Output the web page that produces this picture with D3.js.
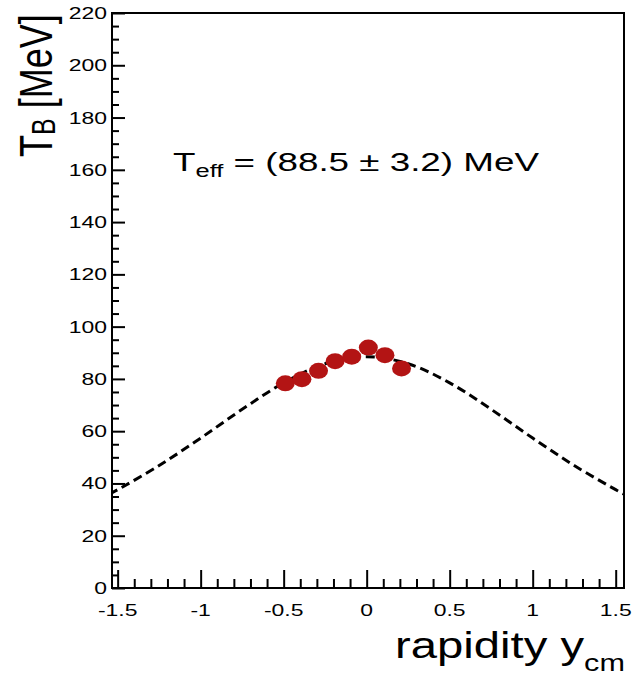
<!DOCTYPE html>
<html>
<head>
<meta charset="utf-8">
<script src="https://cdn.jsdelivr.net/npm/d3@7"></script>
<style>
  html, body { margin: 0; padding: 0; background: #fff; }
  svg { display: block; font-family: "Liberation Sans", Arial, Helvetica, sans-serif; }
</style>
</head>
<body>
<svg id="chart" width="632" height="676"></svg>
<script>
// Measured inverse-slope parameter T_B per rapidity bin
const rapidity = [-0.49, -0.39, -0.29, -0.19, -0.09, 0.01, 0.11, 0.21];
const tempB    = [78.3, 79.9, 83.1, 86.8, 88.5, 92.0, 89.1, 84.0];

// Fitted T_eff / cosh(y) curve, sampled along rapidity
const Teff = 88.5;
const TeffErr = 3.2;
const fitY = [-1.55, -1.5, -1.25, -1.0, -0.75, -0.5, -0.25, 0, 0.25, 0.5, 0.75, 1.0, 1.25, 1.5, 1.55];
const fitT = fitY.map(y => Teff / Math.cosh(y));

// Axis ticks
const xMajor = [-1.5, -1, -0.5, 0, 0.5, 1, 1.5];
const xMajorLabels = ["-1.5", "-1", "-0.5", "0", "0.5", "1", "1.5"];
const yMajor = [0, 20, 40, 60, 80, 100, 120, 140, 160, 180, 200, 220];

const svg = d3.select("#chart");
const L = 112, R = 624, T = 13, B = 588;
const SX = 1.35;   // horizontal widening of the lettering

const x = d3.scaleLinear().domain([-1.534, 1.55]).range([L, R]);
const y = d3.scaleLinear().domain([0, 220]).range([B, T]);

const xMinor = d3.range(-15, 16).map(i => i / 10).filter(v => !xMajor.some(m => Math.abs(m - v) < 1e-9));
const yMinor = d3.range(0, 221, 5).filter(v => v % 20 !== 0);

// Frame
svg.append("rect")
  .attr("x", L).attr("y", T).attr("width", R - L).attr("height", B - T)
  .attr("fill", "none").attr("stroke", "#000").attr("stroke-width", 2);

// Bottom axis: ticks pointing into the frame
const xAxis = d3.axisTop(x).tickValues(xMajor).tickSize(18).tickFormat("");
const gx = svg.append("g").attr("transform", `translate(0,${B})`).call(xAxis);
const xAxisMinor = d3.axisTop(x).tickValues(xMinor).tickSize(9).tickFormat("");
const gxm = svg.append("g").attr("transform", `translate(0,${B})`).call(xAxisMinor);
[gx, gxm].forEach(g => {
  g.select(".domain").remove();
  g.selectAll("line").attr("stroke", "#000").attr("stroke-width", 2);
});
svg.append("g").selectAll("text").data(xMajor).join("text")
  .attr("transform", d => `translate(${x(d)},616) scale(${SX},1)`)
  .attr("text-anchor", "middle").attr("font-size", 17)
  .text((d, i) => xMajorLabels[i]);

// Left axis: ticks pointing into the frame
const yAxis = d3.axisRight(y).tickValues(yMajor).tickSize(13).tickFormat("");
const gy = svg.append("g").attr("transform", `translate(${L},0)`).call(yAxis);
const yAxisMinor = d3.axisRight(y).tickValues(yMinor).tickSize(7).tickFormat("");
const gym = svg.append("g").attr("transform", `translate(${L},0)`).call(yAxisMinor);
[gy, gym].forEach(g => {
  g.select(".domain").remove();
  g.selectAll("line").attr("stroke", "#000").attr("stroke-width", 2);
});
svg.append("g").selectAll("text").data(yMajor).join("text")
  .attr("transform", d => `translate(107,${y(d) + 6}) scale(${SX},1)`)
  .attr("text-anchor", "end").attr("font-size", 17)
  .text(d => d);

// Fit curve
const clipId = "frameClip";
svg.append("clipPath").attr("id", clipId).append("rect")
  .attr("x", L).attr("y", T).attr("width", R - L).attr("height", B - T);
const line = d3.line().x(d => x(d[0])).y(d => y(d[1])).curve(d3.curveCatmullRom);
svg.append("path")
  .datum(fitY.map((v, i) => [v, fitT[i]]))
  .attr("clip-path", `url(#${clipId})`)
  .attr("d", line)
  .attr("fill", "none").attr("stroke", "#000")
  .attr("stroke-width", 3).attr("stroke-dasharray", "9,5");

// Data points
svg.append("g").selectAll("ellipse").data(rapidity).join("ellipse")
  .attr("cx", d => x(d)).attr("cy", (d, i) => y(tempB[i]))
  .attr("rx", 9.5).attr("ry", 8)
  .attr("fill", "#b31414");

// Stretch a text element horizontally so it spans [x0, x1]
function fitSpan(sel, x0, x1, baseY) {
  const w = sel.node().getBBox().width;
  sel.attr("transform", `translate(${x0},${baseY}) scale(${(x1 - x0) / w},1)`);
}

// Fit result label
const lab = svg.append("text").attr("font-size", 26);
lab.append("tspan").text("T");
lab.append("tspan").attr("font-size", 18).attr("dy", 6).text("eff");
lab.append("tspan").attr("dy", -6).text(` = (${Teff} \u00b1 ${TeffErr}) MeV`);
fitSpan(lab, 173, 540, 171);

// Axis titles
const yt = svg.append("text").attr("font-size", 36);
yt.append("tspan").text("T");
yt.append("tspan").attr("font-size", 25).attr("dy", 2).text("B");
yt.append("tspan").attr("dy", -2).text(" [MeV]");
yt.attr("transform", "translate(52,157) scale(1.3,1) rotate(-90)");

const xt = svg.append("text").attr("font-size", 37);
xt.append("tspan").text("rapidity y");
xt.append("tspan").attr("font-size", 24).attr("dy", 13).text("cm");
fitSpan(xt, 395, 625, 658);
</script>
</body>
</html>
